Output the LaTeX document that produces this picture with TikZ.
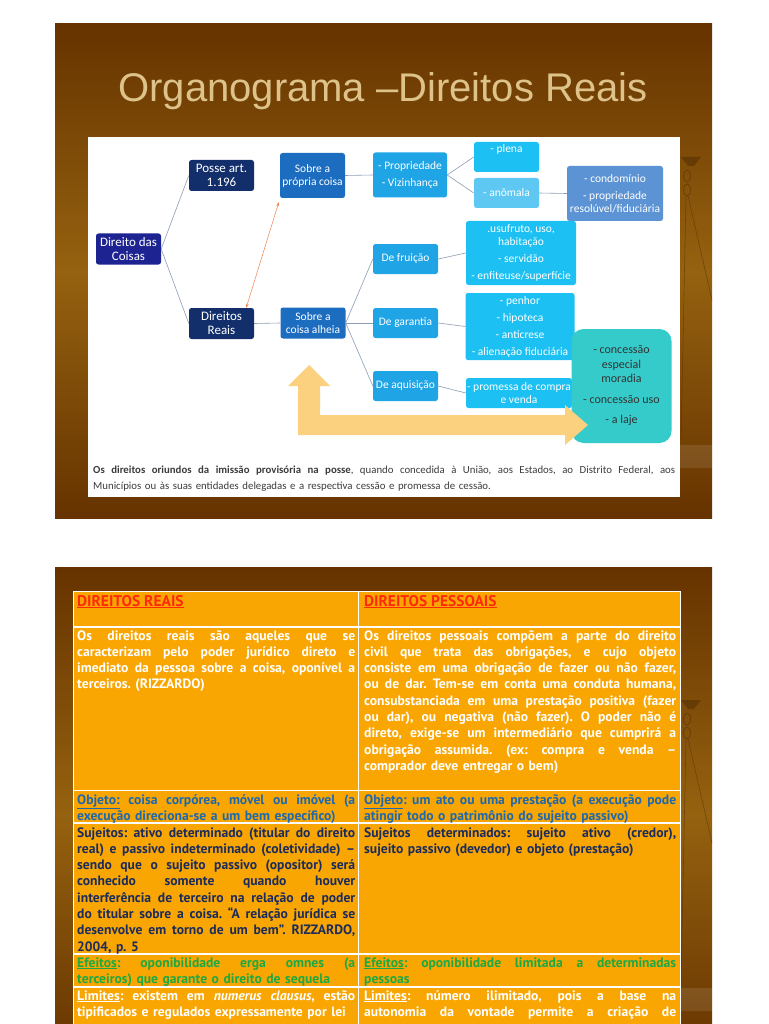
\documentclass[tikz,border=0pt]{standalone}
\usepackage{fontspec}
\setmainfont{Carlito}
\newfontfamily\titlefont{Liberation Sans}
\newfontfamily\tabfont{PT Sans}
\usetikzlibrary{calc,arrows.meta}
\frenchspacing
\definecolor{slidedark}{HTML}{663300}
\definecolor{slidemid}{HTML}{956210}
\definecolor{titletan}{HTML}{DDC38A}
\definecolor{coisasblue}{HTML}{1E2392}
\definecolor{navybox}{HTML}{132F6B}
\definecolor{sobreblue}{HTML}{1C6CC0}
\definecolor{midblue}{HTML}{1FA5E6}
\definecolor{cyanbox}{HTML}{1CC0F2}
\definecolor{paleblue}{HTML}{5EC8F2}
\definecolor{steelbox}{HTML}{5C93D4}
\definecolor{tealbox}{HTML}{35CBCA}
\definecolor{linkgray}{HTML}{8C9DB6}
\definecolor{duoorange}{HTML}{E9834F}
\definecolor{bigarrow}{HTML}{FBD07F}
\definecolor{notegray}{HTML}{3C3C3C}
\definecolor{taborange}{HTML}{F9A602}
\definecolor{headred}{HTML}{FF2A0A}
\definecolor{objblue}{HTML}{1E68AE}
\definecolor{sujnavy}{HTML}{1B2C5C}
\definecolor{efgreen}{HTML}{1EA843}
\definecolor{lampbrown}{HTML}{4A2600}
% a line stretched to the full width of its cell
\newcommand{\fullline}[1]{\makebox[\hsize][s]{\spaceskip=\fontdimen2\font plus 1fil\relax
  \xspaceskip=\spaceskip #1}}
\newcommand{\jl}[1]{\fullline{#1}\\}

\tikzset{
  orgbox/.style={rounded corners=2.5pt, text=white, align=center, inner sep=1pt,
    font=\fontsize{11.5}{13}\selectfont},
  darkbox/.style={orgbox, minimum width=65pt, minimum height=31pt,
    font=\fontsize{13}{14}\selectfont},
  sobrebox/.style={orgbox, fill=sobreblue, minimum width=65pt},
  midbox/.style={orgbox, fill=midblue, minimum width=65pt, minimum height=30pt},
  cyanlist/.style={orgbox, fill=cyanbox},
  link/.style={draw=linkgray, line width=0.6pt},
  duo/.style={draw=duoorange, line width=0.5pt},
  cell/.style={anchor=base west, inner sep=0pt, align=left,
    font=\tabfont\bfseries\fontsize{13.6}{16.3}\selectfont},
  leftcell/.style={cell, text width=278pt},
  rightcell/.style={cell, text width=312pt},
  headcell/.style={cell, font=\tabfont\bfseries\fontsize{15.5}{17}\selectfont, text=headred},
  rowline/.style={draw=white, line width=#1},
  lamp/.style={lampbrown, opacity=0.45},
  slide/.style={top color=slidedark, bottom color=slidedark, middle color=slidemid}
}

\begin{document}
\begin{tikzpicture}[x=1pt, y=-1pt]
  \useasboundingbox (0,0) rectangle (768,1024);
  \clip (0,0) rectangle (768,1024);
  \fill[white] (0,0) rectangle (768,1024);

  % the two slides
  \shade[slide] (55,24) rectangle (712,518);
  \shade[slide] (55,567) rectangle (712,1061);

  % lamp on the right of each slide
  \foreach \dy in {0,543} {
    \fill[lamp] (681,\dy+157) -- (701,\dy+157) -- (694,\dy+166) -- (688,\dy+166) -- cycle;
    \draw[lamp, line width=0.8pt] (687,\dy+176) ellipse (3.5 and 6);
    \draw[lamp, line width=0.8pt] (687,\dy+190) ellipse (3.5 and 6);
    \draw[lamp, line width=0.6pt] (686,\dy+196) -- (681,\dy+440);
    \draw[lamp, line width=0.6pt] (688,\dy+196) -- (712,\dy+300);
    \fill[white, opacity=0.1] (680,\dy+445) rectangle (712,\dy+468);
  }

  % slide 1
  \node[font=\titlefont\fontsize{40}{44}\selectfont, text=titletan, anchor=base] (title) at (383,102) {Organograma –Direitos Reais};
  \fill[white] (88,137) rectangle (680,497);

  \node[darkbox, fill=coisasblue] (coisas) at (128.5,249) {Direito das\\Coisas};
  \node[darkbox, fill=navybox] (posse) at (221.5,175.5) {Posse art.\\1.196};
  \node[darkbox, fill=navybox] (reais) at (221.5,323.5) {Direitos\\Reais};
  \node[sobrebox, minimum height=45pt] (propria) at (312.5,175.5) {Sobre a\\própria coisa};
  \node[sobrebox, minimum height=31pt] (alheia) at (313,323) {Sobre a\\coisa alheia};
  \node[midbox, minimum width=74pt, minimum height=45pt] (prop) at (410,175) {- Propriedade\\[4pt]- Vizinhança};
  \node[orgbox, fill=cyanbox, minimum width=65pt, minimum height=30pt, text depth=17pt] (plena) at (506.5,157) {- plena};
  \node[orgbox, fill=paleblue, minimum width=65pt, minimum height=30pt] (anomala) at (506.5,193) {- anômala};
  \node[orgbox, fill=steelbox, minimum width=96pt, minimum height=55pt] (condo) at (615,193.5) {- condomínio\\[4pt]- propriedade\\resolúvel/fiduciária};
  \node[midbox] (fruicao) at (405.5,259) {De fruição};
  \node[midbox] (garantia) at (405.5,323) {De garantia};
  \node[midbox] (aquisicao) at (405.5,386) {De aquisição};
  \node[cyanlist, minimum width=110pt, minimum height=64pt] (usufruto) at (521,253) {.usufruto, uso,\\habitação\\[4pt]- servidão\\[4pt]- enfiteuse/superfície};
  \node[cyanlist, minimum width=109pt, minimum height=67pt] (penhor) at (520,326.5) {- penhor\\[4pt]- hipoteca\\[4pt]- anticrese\\[4pt]- alienação fiduciária};
  \node[cyanlist, minimum width=106pt, minimum height=30pt] (promessa) at (519,393) {- promessa de compra\\e venda};
  \node[orgbox, fill=tealbox, rounded corners=12pt, text=black!80, minimum width=100pt, minimum height=114pt,
    font=\fontsize{12}{14.5}\selectfont] (moradia) at (621.5,386) {- concessão\\especial\\moradia\\[6pt]- concessão uso\\[6pt]- a laje};

  \draw[link] (coisas.east) -- (posse.west);
  \draw[link] (coisas.east) -- (reais.west);
  \draw[link] (reais.east) -- (alheia.west);
  \draw[link] (propria.east) -- (prop.west);
  \draw[link] (prop.east) -- (plena.west);
  \draw[link] (prop.east) -- (anomala.west);
  \draw[link] (anomala.east) -- (condo.west);
  \draw[link] (alheia.east) -- (fruicao.west);
  \draw[link] (alheia.east) -- (garantia.west);
  \draw[link] (alheia.east) -- (aquisicao.west);
  \draw[link] (fruicao.east) -- (usufruto.west);
  \draw[link] (garantia.east) -- (penhor.west);
  \draw[link] (aquisicao.east) -- (promessa.west);
  \draw[duo, {Stealth[length=4pt,width=3pt]}-{Stealth[length=4pt,width=3pt]}]
    ([xshift=-8pt]reais.north east) -- ([xshift=-1pt,yshift=-4pt]propria.south west);

  % big yellow arrow
  \fill[bigarrow] (309,365) -- (330,386) -- (320,386) -- (320,415) -- (565,415) -- (565,405)
    -- (588,425) -- (565,445) -- (565,435) -- (298,435) -- (298,386) -- (288,386) -- cycle;

  \node[anchor=base west, inner sep=0pt, text width=582pt, align=left, text=notegray,
    font=\fontsize{10.8}{16}\selectfont] (note) at (93,473)
    {\jl{\textbf{Os direitos oriundos da imissão provisória na posse}, quando concedida à União, aos Estados, ao Distrito Federal, aos}
     Municípios ou às suas entidades delegadas e a respectiva cessão e promessa de cessão.};

  % slide 2: the table
  \fill[taborange] (73,591) rectangle (680,1040);
  \draw[white, line width=0.8pt] (73,1040) -- (73,591) -- (680,591) -- (680,1040);
  \draw[white, line width=0.8pt] (358,591) -- (358,1040);
  \draw[rowline=2.5pt] (73,627) -- (680,627);
  \draw[rowline=1pt] (73,790.5) -- (680,790.5);
  \draw[rowline=1.5pt] (73,823) -- (680,823);
  \draw[rowline=1.5pt] (73,954) -- (680,954);
  \draw[rowline=2pt] (73,987) -- (680,987);

  \node[headcell] (headreais) at (77,606) {\underline{DIREITOS REAIS}};
  \node[headcell] (headpessoais) at (364,606) {\underline{DIREITOS PESSOAIS}};

  \node[leftcell, text=white] (defreais) at (77,640)
    {\jl{Os direitos reais são aqueles que se}
     \jl{caracterizam pelo poder jurídico direto e}
     \jl{imediato da pessoa sobre a coisa, oponível a}
     terceiros. (RIZZARDO)};
  \node[rightcell, text=white] (defpessoais) at (364,640)
    {\jl{Os direitos pessoais compõem a parte do direito}
     \jl{civil que trata das obrigações, e cujo objeto}
     \jl{consiste em uma obrigação de fazer ou não fazer,}
     \jl{ou de dar. Tem-se em conta uma conduta humana,}
     \jl{consubstanciada em uma prestação positiva (fazer}
     \jl{ou dar), ou negativa (não fazer). O poder não é}
     \jl{direto, exige-se um intermediário que cumprirá a}
     \jl{obrigação assumida. (ex: compra e venda –}
     comprador deve entregar o bem)};

  \node[leftcell, text=objblue] (objreais) at (77,804)
    {\jl{\underline{Objeto:} coisa corpórea, móvel ou imóvel (a}
     execução direciona-se a um bem específico)};
  \node[rightcell, text=objblue] (objpessoais) at (364,804)
    {\jl{\underline{Objeto}: um ato ou uma prestação (a execução pode}
     atingir todo o patrimônio do sujeito passivo)};

  \node[leftcell, text=sujnavy] (sujreais) at (77,837)
    {\jl{Sujeitos: ativo determinado (titular do direito}
     \jl{real) e passivo indeterminado (coletividade) –}
     \jl{sendo que o sujeito passivo (opositor) será}
     \jl{conhecido somente quando houver}
     \jl{interferência de terceiro na relação de poder}
     \jl{do titular sobre a coisa. “A relação jurídica se}
     \jl{desenvolve em torno de um bem”. RIZZARDO,}
     2004, p. 5};
  \node[rightcell, text=sujnavy] (sujpessoais) at (364,837)
    {\jl{Sujeitos determinados: sujeito ativo (credor),}
     sujeito passivo (devedor) e objeto (prestação)};

  \node[leftcell, text=efgreen] (efreais) at (77,967)
    {\jl{\underline{Efeitos}: oponibilidade erga omnes (a}
     terceiros) que garante o direito de sequela};
  \node[rightcell, text=efgreen] (efpessoais) at (364,967)
    {\jl{\underline{Efeitos}: oponibilidade limitada a determinadas}
     pessoas};

  \node[leftcell, text=white] (limreais) at (77,1000)
    {\jl{\underline{Limites}: existem em \textit{numerus clausus}, estão}
     tipificados e regulados expressamente por lei};
  \node[rightcell, text=white] (limpessoais) at (364,1000)
    {\jl{\underline{Limites}: número ilimitado, pois a base na}
     \fullline{autonomia da vontade permite a criação de}};
\end{tikzpicture}
\end{document}
